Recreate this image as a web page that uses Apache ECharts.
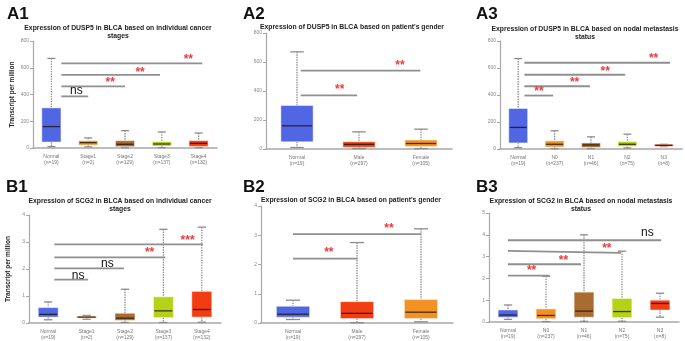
<!DOCTYPE html>
<html>
<head>
<meta charset="utf-8">
<title>DUSP5 / SCG2 expression in BLCA</title>
<script src="https://cdn.jsdelivr.net/npm/echarts@6.0.0/dist/echarts.min.js"></script>
<style>
html, body { margin: 0; padding: 0; background: #fff; }
#chart { width: 685px; height: 341px; }
</style>
</head>
<body>
<div id="chart"></div>
<script>
// box rows: [whisker low, Q1, median, Q3, whisker high]
var stageCategories = ['Normal\n(n=19)', 'Stage1\n(n=2)', 'Stage2\n(n=129)', 'Stage3\n(n=137)', 'Stage4\n(n=132)'];
var genderCategories = ['Normal\n(n=19)', 'Male\n(n=297)', 'Female\n(n=105)'];
var nodalCategories = ['Normal\n(n=19)', 'N0\n(n=237)', 'N1\n(n=46)', 'N2\n(n=75)', 'N3\n(n=8)'];

var a1Boxes = [[10, 45, 160, 300, 670], [8, 22, 40, 55, 75], [2, 10, 28, 55, 130], [3, 15, 30, 48, 120], [3, 12, 35, 55, 112]];
var a2Boxes = [[10, 50, 160, 300, 670], [2, 12, 32, 50, 118], [3, 18, 38, 62, 137]];
var a3Boxes = [[10, 45, 160, 300, 670], [2, 15, 35, 60, 135], [3, 12, 30, 45, 90], [8, 20, 35, 55, 110], [18, 20, 27, 35, 35]];
var b1Boxes = [[0.12, 0.22, 0.32, 0.57, 0.78], [0.14, 0.18, 0.22, 0.25, 0.28], [0.02, 0.1, 0.18, 0.36, 1.25], [0.02, 0.2, 0.45, 0.97, 3.47], [0.03, 0.22, 0.5, 1.17, 3.55]];
var b2Boxes = [[0.12, 0.2, 0.3, 0.57, 0.78], [0.01, 0.15, 0.33, 0.73, 2.75], [0.04, 0.15, 0.37, 0.8, 3.22]];
var b3Boxes = [[0.12, 0.22, 0.32, 0.55, 0.78], [0.02, 0.15, 0.3, 0.6, 2.1], [0.03, 0.22, 0.5, 1.37, 4.0], [0.03, 0.2, 0.48, 1.08, 3.25], [0.22, 0.55, 0.85, 1.0, 1.32]];

// significance brackets: [x start, y start, x end, y end] in category index / data units
var a1Lines = [[0.27, 386, 1.0, 386], [0.27, 461, 2.0, 461], [0.27, 546, 2.95, 546], [0.27, 633, 4.1, 633]];
var a2Lines = [[0.06, 370, 0.97, 370], [0.06, 540, 1.99, 540]];
var a3Lines = [[0.17, 396, 0.96, 396], [0.17, 465, 1.97, 465], [0.17, 550, 2.94, 550], [0.17, 639, 4.17, 639]];
var b1Lines = [[0.16, 1.61, 1.04, 1.61], [0.16, 2.02, 1.97, 2.02], [0.16, 2.43, 3.05, 2.43], [0.16, 2.91, 4.03, 2.91]];
var b2Lines = [[0, 2.2, 1.01, 2.2], [0, 3.04, 2.0, 3.04]];
var b3Lines = [[0, 2.13, 1.09, 2.13], [0, 2.65, 1.92, 2.65], [0, 3.26, 2.97, 3.17], [0, 3.75, 4.03, 3.75]];

// significance marks: [x, y, text]
var a1Marks = [[0.68, 426, 'ns'], [1.6, 486, '**'], [2.41, 566, '**'], [3.72, 663, '**']];
var a2Marks = [[0.69, 409, '**'], [1.66, 577, '**']];
var a3Marks = [[0.57, 426, '**'], [1.55, 493, '**'], [2.39, 574, '**'], [3.72, 666, '**']];
var b1Marks = [[0.78, 1.76, 'ns'], [1.54, 2.18, 'ns'], [2.64, 2.59, '**'], [3.63, 3.06, '***']];
var b2Marks = [[0.56, 2.4, '**'], [1.5, 3.23, '**']];
var b3Marks = [[0.62, 2.35, '**'], [1.46, 2.8, '**'], [2.6, 3.36, '**'], [3.67, 4.08, 'ns']];

var yTicksA = [0, 800, 200];
var yTicksB = [0, 4, 1];
var yTicksB3 = [0, 5, 1];

var BLUE = '#5166e2', ORANGE = '#f39224', BROWN = '#a96b2f', GREEN = '#b5d219', RED = '#f23c12';
var FONT = '"Liberation Sans", Arial, sans-serif';

var panels = [
    {tag: 'A1', title: 'Expression of DUSP5 in BLCA based on individual cancer\nstages', cats: stageCategories, boxes: a1Boxes, lines: a1Lines, marks: a1Marks, ticks: yTicksA,
        colors: [BLUE, ORANGE, BROWN, GREEN, RED], yName: 'Transcript per million',
        grid: {left: 33, top: 41, width: 184, height: 107}, tagPos: [2, 1], titlePos: [113, 19]},
    {tag: 'A2', title: "Expression of DUSP5 in BLCA based on patient's gender", cats: genderCategories, boxes: a2Boxes, lines: a2Lines, marks: a2Marks, ticks: yTicksA,
        colors: [BLUE, RED, ORANGE], yName: '',
        grid: {left: 266, top: 33, width: 186, height: 116}, tagPos: [238, 1], titlePos: [347, 18]},
    {tag: 'A3', title: 'Expression of DUSP5 in BLCA based on nodal metastasis\nstatus', cats: nodalCategories, boxes: a3Boxes, lines: a3Lines, marks: a3Marks, ticks: yTicksA,
        colors: [BLUE, ORANGE, BROWN, GREEN, RED], yName: '',
        grid: {left: 500, top: 41, width: 182, height: 108}, tagPos: [471, 1], titlePos: [580, 20]},
    {tag: 'B1', title: 'Expression of SCG2 in BLCA based on individual cancer\nstages', cats: stageCategories, boxes: b1Boxes, lines: b1Lines, marks: b1Marks, ticks: yTicksB,
        colors: [BLUE, ORANGE, BROWN, GREEN, RED], yName: 'Transcript per million',
        grid: {left: 29, top: 215, width: 192, height: 109}, tagPos: [1, 174], titlePos: [115, 192]},
    {tag: 'B2', title: "Expression of SCG2 in BLCA based on patient's gender", cats: genderCategories, boxes: b2Boxes, lines: b2Lines, marks: b2Marks, ticks: yTicksB,
        colors: [BLUE, RED, ORANGE], yName: '',
        grid: {left: 261, top: 206, width: 192, height: 117}, tagPos: [238, 174], titlePos: [346, 191]},
    {tag: 'B3', title: 'Expression of SCG2 in BLCA based on nodal metastasis\nstatus', cats: nodalCategories, boxes: b3Boxes, lines: b3Lines, marks: b3Marks, ticks: yTicksB3,
        colors: [BLUE, ORANGE, BROWN, GREEN, RED], yName: '',
        grid: {left: 489, top: 213, width: 190, height: 109}, tagPos: [471, 174], titlePos: [576, 192]}
];

function renderBox(colors) {
    return function (params, api) {
        var i = api.value(0);
        var low = api.coord([i, api.value(1)]);
        var q1 = api.coord([i, api.value(2)]);
        var med = api.coord([i, api.value(3)]);
        var q3 = api.coord([i, api.value(4)]);
        var high = api.coord([i, api.value(5)]);
        var band = api.size([1, 0])[0];
        var bw = band * 0.52;
        var cw = bw * 0.42;
        var x = low[0];
        var whisker = {stroke: '#8c8c8c', lineWidth: 1.3, lineDash: [1.4, 1.1]};
        var cap = {stroke: '#8c8c8c', lineWidth: 1.3};
        return {
            type: 'group',
            children: [
                {type: 'line', shape: {x1: x, y1: high[1], x2: x, y2: q3[1]}, style: whisker},
                {type: 'line', shape: {x1: x, y1: q1[1], x2: x, y2: low[1]}, style: whisker},
                {type: 'line', shape: {x1: x - cw / 2, y1: high[1], x2: x + cw / 2, y2: high[1]}, style: cap},
                {type: 'line', shape: {x1: x - cw / 2, y1: low[1], x2: x + cw / 2, y2: low[1]}, style: cap},
                {type: 'rect', shape: {x: x - bw / 2, y: q3[1], width: bw, height: Math.max(q1[1] - q3[1], 1.5)},
                    style: {fill: colors[params.dataIndex], stroke: 'rgba(255,255,255,0.45)', lineWidth: 1}},
                {type: 'line', shape: {x1: x - bw / 2 + 1, y1: med[1], x2: x + bw / 2 - 1, y2: med[1]},
                    style: {stroke: 'rgba(30,20,15,0.8)', lineWidth: 1.3}}
            ]
        };
    };
}

function renderLine(params, api) {
    var p0 = api.coord([api.value(0), api.value(1)]);
    var p1 = api.coord([api.value(2), api.value(3)]);
    return {type: 'line', shape: {x1: p0[0], y1: p0[1], x2: p1[0], y2: p1[1]},
        style: {stroke: '#8f8f8f', lineWidth: 1.8}};
}

function renderMark(marks) {
    return function (params, api) {
        var m = marks[params.dataIndex];
        var p = api.coord([m[0], m[1]]);
        var ns = m[2] === 'ns';
        return {type: 'text', x: p[0], y: p[1],
            style: {text: m[2], fill: ns ? '#111' : '#ee3a3a', fontSize: 12, fontFamily: FONT,
                fontWeight: ns ? 'normal' : 'bold', align: 'center', verticalAlign: 'middle'}};
    };
}

var titles = [], grids = [], xAxes = [], yAxes = [], series = [];
panels.forEach(function (p, k) {
    titles.push({text: p.tag, left: p.tagPos[0], top: p.tagPos[1],
        textStyle: {fontSize: 17, fontWeight: 'bold', color: '#111', fontFamily: FONT}});
    titles.push({text: p.title, left: p.titlePos[0], top: p.titlePos[1], textAlign: 'center',
        textStyle: {fontSize: 6.8, fontWeight: 'bold', color: '#222', lineHeight: 8, fontFamily: FONT}});
    grids.push(p.grid);
    xAxes.push({type: 'category', gridIndex: k, data: p.cats,
        axisLine: {lineStyle: {color: '#a8a8a8', width: 1.5}},
        axisTick: {show: false},
        axisLabel: {interval: 0, fontSize: 5, lineHeight: 6.5, color: '#777', margin: 5, fontFamily: FONT}});
    xAxes.push({type: 'value', gridIndex: k, min: -0.5, max: p.cats.length - 0.5, show: false});
    yAxes.push({type: 'value', gridIndex: k, min: p.ticks[0], max: p.ticks[1], interval: p.ticks[2],
        name: p.yName, nameLocation: 'middle', nameGap: 17,
        nameTextStyle: {fontSize: 6.5, fontWeight: 'bold', color: '#222', fontFamily: FONT},
        axisLine: {show: true, onZero: false, lineStyle: {color: '#a8a8a8', width: 1.2}},
        axisTick: {show: true, length: 3, lineStyle: {color: '#a8a8a8'}},
        splitLine: {show: false},
        axisLabel: {fontSize: 5, color: '#888', margin: 4, fontFamily: FONT}});
    series.push({type: 'custom', xAxisIndex: 2 * k + 1, yAxisIndex: k,
        data: p.boxes.map(function (b, i) { return [i].concat(b); }),
        encode: {x: 0, y: [1, 2, 3, 4, 5]}, renderItem: renderBox(p.colors), silent: true});
    series.push({type: 'custom', xAxisIndex: 2 * k + 1, yAxisIndex: k, data: p.lines,
        encode: {x: [0, 2], y: [1, 3]}, renderItem: renderLine, silent: true});
    series.push({type: 'custom', xAxisIndex: 2 * k + 1, yAxisIndex: k,
        data: p.marks.map(function (m) { return [m[0], m[1]]; }),
        encode: {x: 0, y: 1}, renderItem: renderMark(p.marks), silent: true});
});

var chart = echarts.init(document.getElementById('chart'));
chart.setOption({
    backgroundColor: '#fff',
    animation: false,
    title: titles,
    grid: grids,
    xAxis: xAxes,
    yAxis: yAxes,
    series: series
});
</script>
</body>
</html>
